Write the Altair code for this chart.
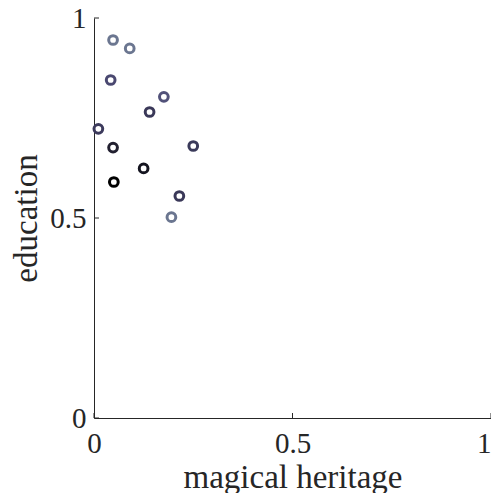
import altair as alt
import pandas as pd

heritage = [0.048, 0.090, 0.042, 0.176, 0.140, 0.011, 0.048, 0.250, 0.125, 0.050, 0.215, 0.195]
education = [0.945, 0.924, 0.845, 0.803, 0.765, 0.723, 0.676, 0.680, 0.624, 0.590, 0.555, 0.502]
colors = ["#6b7690", "#6b7690", "#4a4870", "#515179", "#3a3858", "#3c3a5c",
          "#222030", "#3a3a5a", "#151520", "#000000", "#3a3858", "#6b7690"]
ticks = [0, 0.5, 1]

df = pd.DataFrame({"h": heritage, "e": education, "c": colors})
txdf = pd.DataFrame({"h": ticks})
tydf = pd.DataFrame({"e": ticks})

W, H = 397, 400
FONT = "Liberation Serif"

xs = alt.Scale(domain=[0, 1], nice=False)
ys = alt.Scale(domain=[0, 1], nice=False)

lab = "datum.value == 0 ? '0' : datum.value == 1 ? '1' : format(datum.value, '.1f')"
xaxis = alt.Axis(values=ticks, title="magical heritage", grid=False, tickSize=0,
                 labelPadding=11, labelFlush=False, labelOverlap=False,
                 labelAlign=alt.ExprRef("datum.value == 1 ? 'right' : 'center'"),
                 titleY=69, titleBaseline="alphabetic", labelExpr=lab)
yaxis = alt.Axis(values=ticks, title="education", grid=False, tickSize=0,
                 labelPadding=8, labelFlush=False, labelOverlap=False,
                 titleX=-58, titleBaseline="alphabetic", labelExpr=lab)

points = alt.Chart(df).mark_point(shape="circle", filled=False, size=76, strokeWidth=3, opacity=1).encode(
    x=alt.X("h:Q", scale=xs, axis=xaxis),
    y=alt.Y("e:Q", scale=ys, axis=yaxis),
    color=alt.Color("c:N", scale=None),
)

xticks = alt.Chart(txdf).mark_rule(color="#262626", strokeWidth=1).encode(
    x=alt.X("h:Q", scale=xs, axis=xaxis),
    y=alt.value(H), y2=alt.value(H - 5),
)
yticks = alt.Chart(tydf).mark_rule(color="#262626", strokeWidth=1).encode(
    y=alt.Y("e:Q", scale=ys, axis=yaxis),
    x=alt.value(0), x2=alt.value(5),
)

chart = alt.layer(points, xticks, yticks).properties(
    width=W, height=H,
    autosize=alt.AutoSizeParams(type="none"),
    padding={"left": 86, "top": 10, "right": 0, "bottom": 75},
).configure_view(stroke=None).configure_axis(
    labelFont=FONT, titleFont=FONT, labelFontSize=29, titleFontSize=33,
    labelColor="#262626", titleColor="#262626", titleFontWeight="normal",
    domainColor="#262626", domainWidth=1,
)

chart.save("out.html", embed_options={"renderer": "svg", "actions": False})
